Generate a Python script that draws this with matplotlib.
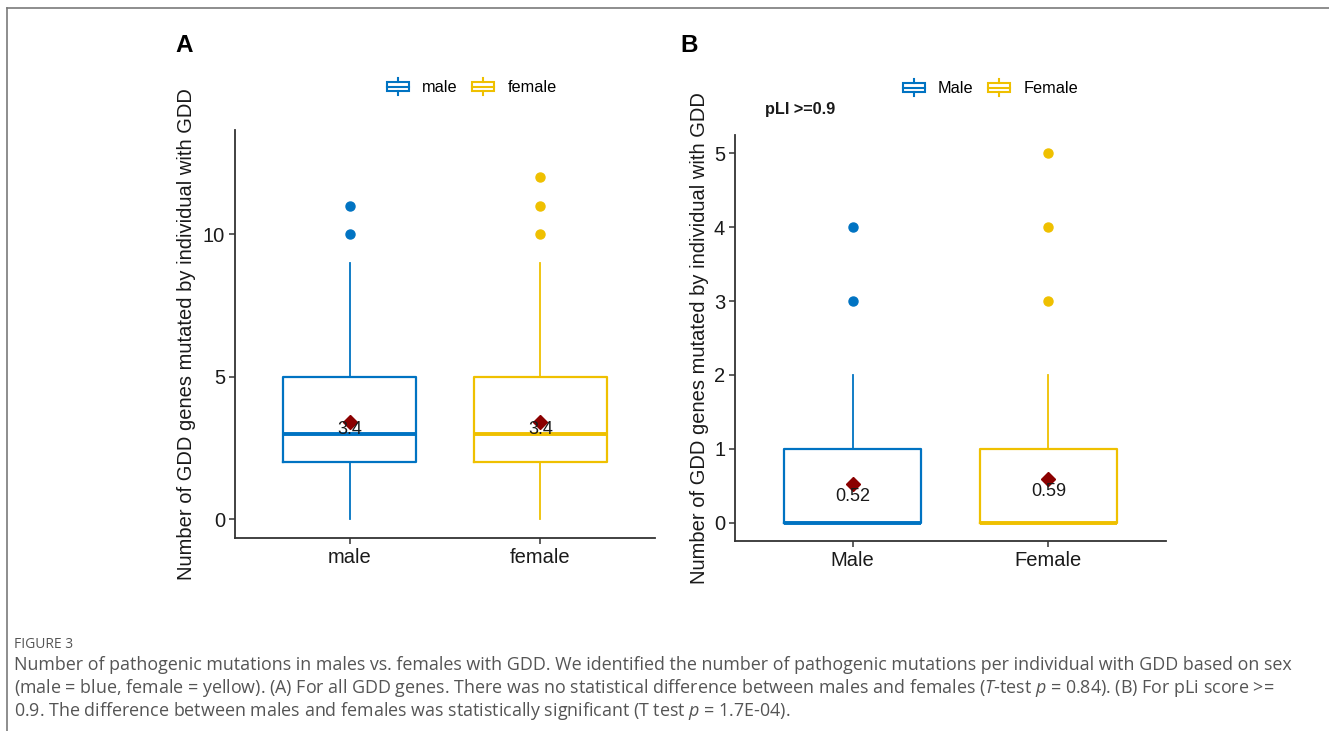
import matplotlib
matplotlib.use("Agg")
import matplotlib.pyplot as plt
from matplotlib.lines import Line2D
from matplotlib.patches import Rectangle, Patch
from matplotlib.legend_handler import HandlerBase

plt.rcParams["font.family"] = ["Liberation Sans", "DejaVu Sans"]
plt.rcParams["mathtext.fontset"] = "custom"
plt.rcParams["mathtext.rm"] = "Open Sans"
plt.rcParams["mathtext.it"] = "Open Sans:italic"

BLUE = "#0073C2"
YELLOW = "#EFC000"
MEAN_RED = "#8B0000"
AXIS = "#333333"

# panel A: all GDD genes
a_groups = ["male", "female"]
a_q1 = [2, 2]
a_med = [3, 3]
a_q3 = [5, 5]
a_whislo = [0, 0]
a_whishi = [9, 9]
a_fliers = [[10, 11], [10, 11, 12]]
a_mean = [3.4, 3.4]
a_mean_lbl = ["3.4", "3.4"]

# panel B: pLI >= 0.9
b_groups = ["Male", "Female"]
b_q1 = [0, 0]
b_med = [0, 0]
b_q3 = [1, 1]
b_whislo = [0, 0]
b_whishi = [2, 2]
b_fliers = [[3, 4], [3, 4, 5]]
b_mean = [0.52, 0.59]
b_mean_lbl = ["0.52", "0.59"]


class BoxHandler(HandlerBase):
    def create_artists(self, legend, orig_handle, xd, yd, w, h, fontsize, trans):
        c = orig_handle.get_edgecolor()
        x0, y0 = -xd, -yd
        rect = Rectangle((x0, y0 + 0.2 * h), w, 0.6 * h, fill=False,
                         edgecolor=c, lw=1.5, transform=trans)
        mid = Line2D([x0, x0 + w], [y0 + 0.5 * h] * 2, color=c, lw=1.5,
                     transform=trans)
        lo = Line2D([x0 + w / 2] * 2, [y0 - 0.05 * h, y0 + 0.2 * h], color=c,
                    lw=1.5, transform=trans)
        hi = Line2D([x0 + w / 2] * 2, [y0 + 0.8 * h, y0 + 1.05 * h], color=c,
                    lw=1.5, transform=trans)
        return [rect, mid, lo, hi]


def panel(ax, groups, q1, med, q3, wlo, whi, fliers, means, lbls,
          ylim, yticks, lbl_off, leg_xy):
    cols = [BLUE, YELLOW]
    for i, g in enumerate(groups):
        st = dict(med=med[i], q1=q1[i], q3=q3[i], whislo=wlo[i],
                  whishi=whi[i], fliers=fliers[i], label=g)
        c = cols[i]
        ax.bxp([st], positions=[i + 1], widths=0.7, showcaps=False,
               boxprops=dict(color=c, lw=1.6),
               whiskerprops=dict(color=c, lw=1.3),
               medianprops=dict(color=c, lw=2.8, solid_capstyle="butt"),
               flierprops=dict(marker="o", markerfacecolor=c,
                               markeredgecolor=c, markersize=6.5))
        ax.plot(i + 1, means[i], marker="D", color=MEAN_RED, markersize=7,
                zorder=5)
        ax.annotate(lbls[i], (i + 1, means[i]), xytext=(0, lbl_off),
                    textcoords="offset points", ha="center", va="center",
                    fontsize=13, color="#1a1a1a", zorder=6)
    ax.set_xlim(0.4, 2.6)
    ax.set_ylim(*ylim)
    ax.set_xticks([1, 2])
    ax.set_xticklabels(groups)
    ax.set_yticks(yticks)
    for s in ["top", "right"]:
        ax.spines[s].set_visible(False)
    for s in ["left", "bottom"]:
        ax.spines[s].set_color(AXIS)
        ax.spines[s].set_linewidth(1.3)
    ax.tick_params(colors=AXIS, labelcolor="#1a1a1a", labelsize=14.5,
                   length=4, width=1.1, pad=3)
    ax.set_ylabel("Number of GDD genes mutated by individual with GDD",
                  fontsize=14.5, color="#1a1a1a", labelpad=5)
    handles = [Patch(edgecolor=c, facecolor="none") for c in cols]
    ax.legend(handles, groups, handler_map={Patch: BoxHandler()},
              loc="center", bbox_to_anchor=leg_xy, ncol=2, frameon=False,
              fontsize=11.7, handlelength=1.35, handleheight=1.1,
              columnspacing=0.9, handletextpad=0.8)


fig = plt.figure(figsize=(13.29, 7.31), dpi=100)
axA = fig.add_axes([0.1768, 0.2640, 0.3161, 0.5582])
axB = fig.add_axes([0.5530, 0.2599, 0.3244, 0.5554])

panel(axA, a_groups, a_q1, a_med, a_q3, a_whislo, a_whishi, a_fliers,
      a_mean, a_mean_lbl, (-0.65, 13.65), [0, 5, 10], -5, (0.564, 1.105))
panel(axB, b_groups, b_q1, b_med, b_q3, b_whislo, b_whishi, b_fliers,
      b_mean, b_mean_lbl, (-0.25, 5.25), [0, 1, 2, 3, 4, 5], -9,
      (0.593, 1.116))
axB.yaxis.set_label_coords(-0.06, 0.5)
axB.text(0.07, 1.062, "pLI >=0.9", transform=axB.transAxes, fontsize=11.7,
         fontweight="bold", color="#1a1a1a", ha="left", va="center")

fig.text(175 / 1329, 1 - 45 / 731, "A", fontsize=17.5, fontweight="bold",
         ha="left", va="center")
fig.text(680 / 1329, 1 - 45 / 731, "B", fontsize=17.5, fontweight="bold",
         ha="left", va="center")

# frame
fig.add_artist(Line2D([7 / 1329, 1], [1 - 8 / 731] * 2, color="#7a7a7a",
                      lw=1.2, transform=fig.transFigure))
fig.add_artist(Line2D([7 / 1329] * 2, [0, 1 - 8 / 731], color="#7a7a7a",
                      lw=1.2, transform=fig.transFigure))

CAP = "#555555"
fig.text(14 / 1329, 1 - 644 / 731, "FIGURE 3", fontsize=10, color=CAP,
         family="Open Sans", va="center", ha="left")
cap_lines = [
    "Number of pathogenic mutations in males vs. females with GDD. We identified "
    "the number of pathogenic mutations per individual with GDD based on sex",
    "(male = blue, female = yellow). (A) For all GDD genes. There was no "
    "statistical difference between males and females ($T$-test $p$ = 0.84). "
    "(B) For pLi score >=",
    "0.9. The difference between males and females was statistically "
    "significant (T test $p$ = 1.7E-04).",
]
for k, line in enumerate(cap_lines):
    fig.text(14 / 1329, 1 - (665 + 23 * k) / 731, line, fontsize=12.9,
             color=CAP, family="Open Sans", va="center", ha="left")

fig.savefig("out.png", dpi=100)
